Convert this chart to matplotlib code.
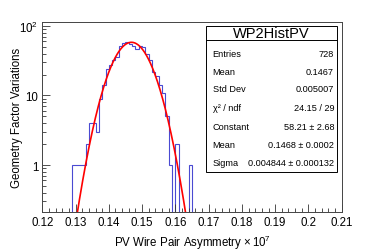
import numpy as np
import matplotlib
matplotlib.use("Agg")
import matplotlib.pyplot as plt
from matplotlib.ticker import FixedLocator, FixedFormatter, LogLocator, MultipleLocator, NullFormatter

plt.rcParams['font.family'] = ['Liberation Sans', 'DejaVu Sans']
plt.rcParams['mathtext.fontset'] = 'custom'
plt.rcParams['mathtext.rm'] = 'Liberation Sans'
plt.rcParams['mathtext.it'] = 'Liberation Sans:italic'
plt.rcParams['mathtext.default'] = 'regular'

# histogram: 0.001 wide bins from 0.129 to 0.165
bin_lo = 0.129
bin_w = 0.001
counts = [1, 1, 1, 1, 2, 4, 4, 3, 9, 14, 24, 27, 32, 36, 52, 57, 59, 55,
          52, 46, 52, 49, 40, 32, 22, 19, 14, 11, 5, 1, 0, 2, 0, 0, 0, 1]

# gaussian fit parameters (from the stats box)
fit_const = 58.21
fit_mean = 0.1468
fit_sigma = 0.004844

hist_name = "WP2HistPV"
stat_labels = ["Entries", "Mean", "Std Dev", "\u03c7\u00b2 / ndf", "Constant", "Mean", "Sigma"]
stat_values = ["728", "0.1467", "0.005007", "24.15 / 29", "58.21 \u00b1 2.68",
               "0.1468 \u00b1 0.0002", "0.004844 \u00b1 0.000132"]

xticks = [0.12, 0.13, 0.14, 0.15, 0.16, 0.17, 0.18, 0.19, 0.2, 0.21]
xticklabels = ["0.12", "0.13", "0.14", "0.15", "0.16", "0.17", "0.18", "0.19", "0.2", "0.21"]

W, H = 374, 253
fig = plt.figure(figsize=(W / 100, H / 100), dpi=100)
ax = fig.add_axes([42.3 / W, 1 - 213.3 / H, (341.7 - 42.3) / W, (213.3 - 23.0) / H])

counts = np.array(counts, dtype=float)
edges = bin_lo + bin_w * np.arange(len(counts) + 1)
shown = np.where(counts > 0, counts, 1e-3)
ax.stairs(shown, edges, baseline=1e-3, color='#4a4ad2', lw=0.8)

xf = np.linspace(edges[0], edges[-1], 400)
yf = fit_const * np.exp(-0.5 * ((xf - fit_mean) / fit_sigma) ** 2)
ax.plot(xf, yf, color='#ff0000', lw=1.2)

ax.set_yscale('log')
ax.set_xlim(0.12, 0.21)
ax.set_ylim(0.209, 114)

ax.xaxis.set_major_locator(FixedLocator(xticks))
ax.xaxis.set_major_formatter(FixedFormatter(xticklabels))
ax.xaxis.set_minor_locator(MultipleLocator(0.002))
ax.yaxis.set_major_locator(FixedLocator([1, 10, 100]))
ax.yaxis.set_major_formatter(FixedFormatter(['1', '10', '$10^{2}$']))
ax.yaxis.set_minor_locator(LogLocator(base=10, subs=np.arange(2, 10)))
ax.yaxis.set_minor_formatter(NullFormatter())

ax.tick_params(which='both', direction='in', top=False, right=False, labelsize=8.3, width=0.6, color='#333333')
ax.tick_params(which='major', length=5.5, pad=3)
ax.tick_params(which='minor', length=2.8)
for s in ax.spines.values():
    s.set_linewidth(0.7)
    s.set_color('#444444')

ax.set_xlabel(r'PV Wire Pair Asymmetry $\times\,10^{7}$', fontsize=8.3)
ax.set_ylabel('Geometry Factor Variations', fontsize=8.3)
ax.xaxis.set_label_coords(0.5, -0.108)
ax.yaxis.set_label_coords(-0.064, 0.5)

# stats box
bx0, bx1, by0, by1 = 206, 336.7, 27.3, 172.7
box = plt.Rectangle((bx0 / W, 1 - by1 / H), (bx1 - bx0) / W, (by1 - by0) / H,
                    transform=fig.transFigure, facecolor='white', edgecolor='black', lw=0.7)
fig.add_artist(box)
fig.add_artist(plt.Line2D([bx0 / W, bx1 / W], [1 - 40.7 / H, 1 - 40.7 / H],
                          transform=fig.transFigure, color='black', lw=0.7))
fig.text((bx0 + bx1) / 2 / W, 1 - 34 / H, hist_name, ha='center', va='center', fontsize=10.5)
rows_y = [54.3, 72.3, 90, 108.3, 127.3, 145.7, 164]
for lab, val, yy in zip(stat_labels, stat_values, rows_y):
    fig.text(212.7 / W, 1 - yy / H, lab, ha='left', va='center', fontsize=6.6)
    fig.text(334 / W, 1 - yy / H, val, ha='right', va='center', fontsize=6.6)

fig.savefig('out.png', dpi=100)
